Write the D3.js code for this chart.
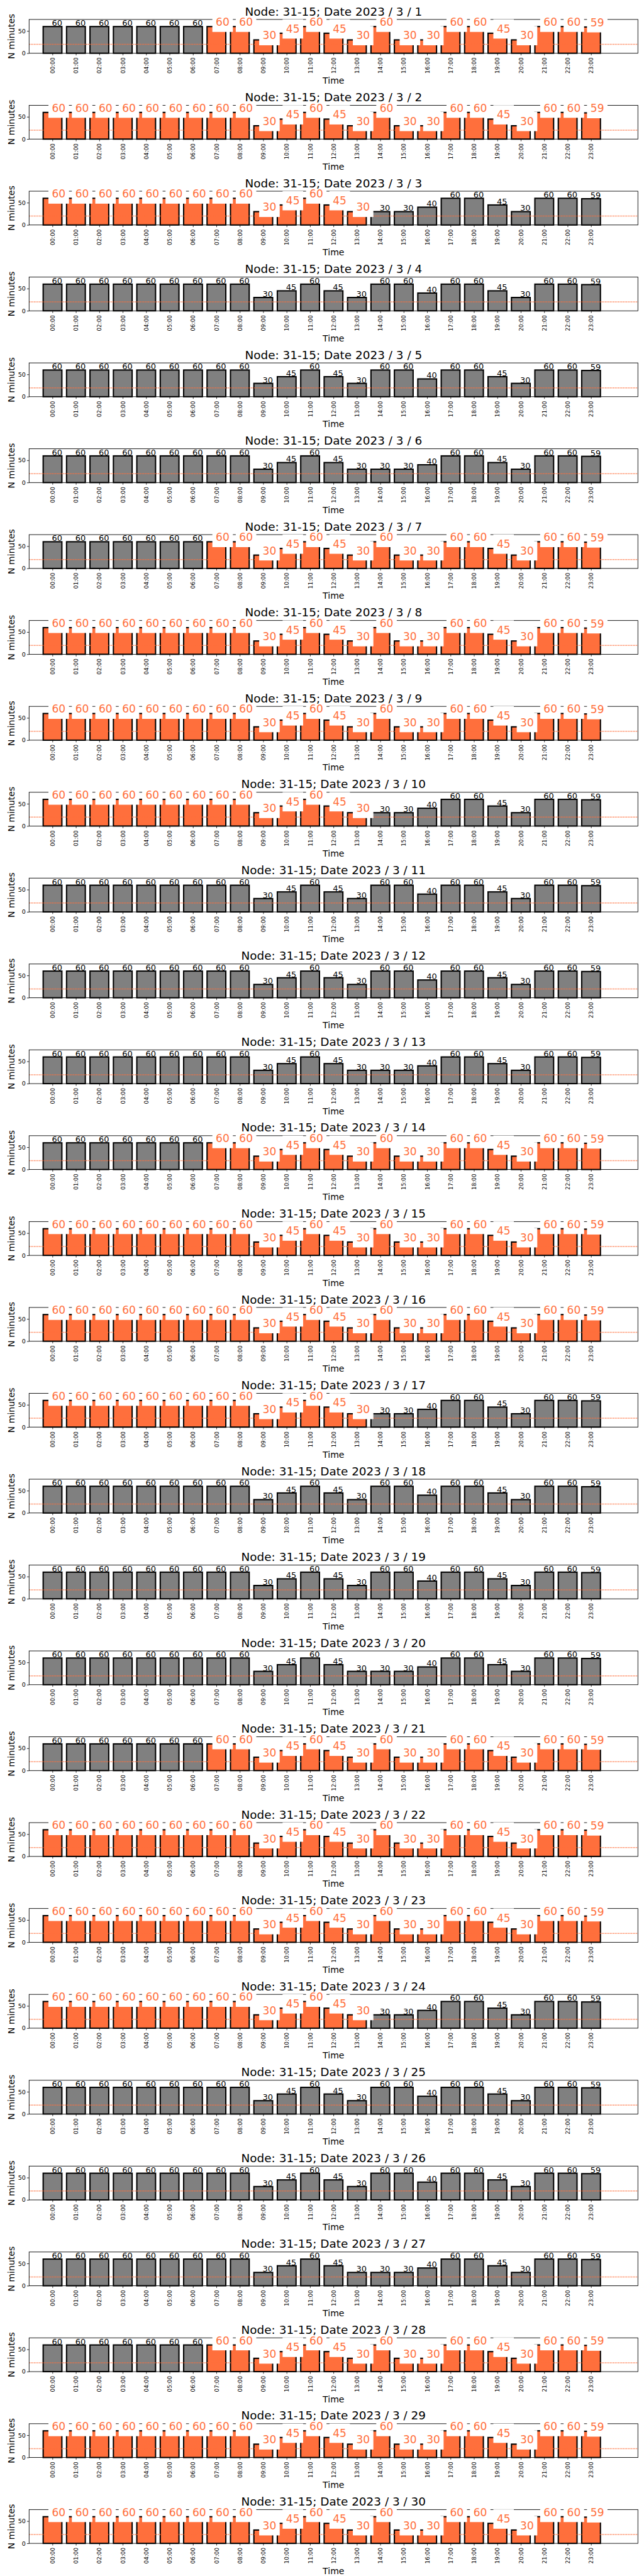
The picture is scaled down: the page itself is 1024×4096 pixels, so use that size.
<!DOCTYPE html>
<html><head><meta charset="utf-8">
<script src="https://cdn.jsdelivr.net/npm/d3@7"></script>
<style>
body{margin:0;background:#fff}
svg{display:block}
text{font-family:"DejaVu Sans",sans-serif}
</style>
</head><body>
<svg id="chart"></svg>
<script>
// ---------------- data ----------------
const nodeName = "31-15";
const yearLabel = 2023;
const monthLabel = 3;
const dayNumbers = [1,2,3,4,5,6,7,8,9,10,11,12,13,14,15,16,17,18,19,20,21,22,23,24,25,26,27,28,29,30];
const hourLabels = ["00:00","01:00","02:00","03:00","04:00","05:00","06:00","07:00","08:00","09:00","10:00","11:00",
                    "12:00","13:00","14:00","15:00","16:00","17:00","18:00","19:00","20:00","21:00","22:00","23:00"];
const yTickValues = [0, 50];
const thresholdMinutes = 20;

// minutes per hour, one row per day
const minutesByDay = [
  [60,60,60,60,60,60,60,60,60,30,45,60,45,30,60,30,30,60,60,45,30,60,60,59], // 1
  [60,60,60,60,60,60,60,60,60,30,45,60,45,30,60,30,30,60,60,45,30,60,60,59], // 2
  [60,60,60,60,60,60,60,60,60,30,45,60,45,30,30,30,40,60,60,45,30,60,60,59], // 3
  [60,60,60,60,60,60,60,60,60,30,45,60,45,30,60,60,40,60,60,45,30,60,60,59], // 4
  [60,60,60,60,60,60,60,60,60,30,45,60,45,30,60,60,40,60,60,45,30,60,60,59], // 5
  [60,60,60,60,60,60,60,60,60,30,45,60,45,30,30,30,40,60,60,45,30,60,60,59], // 6
  [60,60,60,60,60,60,60,60,60,30,45,60,45,30,60,30,30,60,60,45,30,60,60,59], // 7
  [60,60,60,60,60,60,60,60,60,30,45,60,45,30,60,30,30,60,60,45,30,60,60,59], // 8
  [60,60,60,60,60,60,60,60,60,30,45,60,45,30,60,30,30,60,60,45,30,60,60,59], // 9
  [60,60,60,60,60,60,60,60,60,30,45,60,45,30,30,30,40,60,60,45,30,60,60,59], // 10
  [60,60,60,60,60,60,60,60,60,30,45,60,45,30,60,60,40,60,60,45,30,60,60,59], // 11
  [60,60,60,60,60,60,60,60,60,30,45,60,45,30,60,60,40,60,60,45,30,60,60,59], // 12
  [60,60,60,60,60,60,60,60,60,30,45,60,45,30,30,30,40,60,60,45,30,60,60,59], // 13
  [60,60,60,60,60,60,60,60,60,30,45,60,45,30,60,30,30,60,60,45,30,60,60,59], // 14
  [60,60,60,60,60,60,60,60,60,30,45,60,45,30,60,30,30,60,60,45,30,60,60,59], // 15
  [60,60,60,60,60,60,60,60,60,30,45,60,45,30,60,30,30,60,60,45,30,60,60,59], // 16
  [60,60,60,60,60,60,60,60,60,30,45,60,45,30,30,30,40,60,60,45,30,60,60,59], // 17
  [60,60,60,60,60,60,60,60,60,30,45,60,45,30,60,60,40,60,60,45,30,60,60,59], // 18
  [60,60,60,60,60,60,60,60,60,30,45,60,45,30,60,60,40,60,60,45,30,60,60,59], // 19
  [60,60,60,60,60,60,60,60,60,30,45,60,45,30,30,30,40,60,60,45,30,60,60,59], // 20
  [60,60,60,60,60,60,60,60,60,30,45,60,45,30,60,30,30,60,60,45,30,60,60,59], // 21
  [60,60,60,60,60,60,60,60,60,30,45,60,45,30,60,30,30,60,60,45,30,60,60,59], // 22
  [60,60,60,60,60,60,60,60,60,30,45,60,45,30,60,30,30,60,60,45,30,60,60,59], // 23
  [60,60,60,60,60,60,60,60,60,30,45,60,45,30,30,30,40,60,60,45,30,60,60,59], // 24
  [60,60,60,60,60,60,60,60,60,30,45,60,45,30,60,60,40,60,60,45,30,60,60,59], // 25
  [60,60,60,60,60,60,60,60,60,30,45,60,45,30,60,60,40,60,60,45,30,60,60,59], // 26
  [60,60,60,60,60,60,60,60,60,30,45,60,45,30,30,30,40,60,60,45,30,60,60,59], // 27
  [60,60,60,60,60,60,60,60,60,30,45,60,45,30,60,30,30,60,60,45,30,60,60,59], // 28
  [60,60,60,60,60,60,60,60,60,30,45,60,45,30,60,30,30,60,60,45,30,60,60,59], // 29
  [60,60,60,60,60,60,60,60,60,30,45,60,45,30,60,30,30,60,60,45,30,60,60,59]  // 30
];
// flagged (highlighted) hour range per day, null = none
const flaggedFrom = [7,0,0,null,null,null,7,0,0,0,null,null,null,7,0,0,0,null,null,null,7,0,0,0,null,null,null,7,0,0];
const flaggedTo   = [23,23,13,null,null,null,23,23,23,13,null,null,null,23,23,23,13,null,null,null,23,23,23,13,null,null,null,23,23,23];

// ---------------- drawing ----------------
const W = 1500, H = 6000;
const PANEL_H = 200;
const AX_L = 67.8, AX_R = 1485.8, AX_T = 45.3, AX_B = 124;
const ORANGE = "#ff6f3c", GRAY = "#808080";

const svg = d3.select("#chart")
  .attr("width", 1024).attr("height", 4096)
  .attr("viewBox", `0 0 ${W} ${H}`);
svg.append("rect").attr("width", W).attr("height", H).attr("fill", "#fff");

const x = d3.scaleLinear().domain([-1, 25]).range([AX_L, AX_R]);
const y = d3.scaleLinear().domain([0, 76]).range([AX_B, AX_T]);
const barW = x(0.8) - x(0);

dayNumbers.forEach((day, i) => {
  const g = svg.append("g").attr("transform", `translate(0,${i * PANEL_H})`);
  const from = flaggedFrom[i], to = flaggedTo[i];
  const data = minutesByDay[i].map((v, h) => ({
    h, v, f: from !== null && h >= from && h <= to
  }));

  // bars
  g.append("g").selectAll("rect").data(data).join("rect")
    .attr("x", d => x(d.h) - barW / 2)
    .attr("y", d => y(d.v))
    .attr("width", barW)
    .attr("height", d => y(0) - y(d.v))
    .attr("fill", d => d.f ? ORANGE : GRAY)
    .attr("stroke", "#000")
    .attr("stroke-width", 3);

  // threshold line
  g.append("line")
    .attr("x1", AX_L).attr("x2", AX_R)
    .attr("y1", y(thresholdMinutes)).attr("y2", y(thresholdMinutes))
    .attr("stroke", ORANGE).attr("stroke-width", 2.2)
    .attr("stroke-dasharray", "2,1.8");

  // spines
  g.append("rect")
    .attr("x", AX_L).attr("y", AX_T)
    .attr("width", AX_R - AX_L).attr("height", AX_B - AX_T)
    .attr("fill", "none").attr("stroke", "#000").attr("stroke-width", 1.3);

  // x axis
  const xa = g.append("g").attr("transform", `translate(0,${AX_B})`)
    .call(d3.axisBottom(x).tickValues(d3.range(24)).tickFormat(h => hourLabels[h]).tickSize(5));
  xa.select(".domain").remove();
  xa.selectAll(".tick line").attr("stroke", "#000").attr("stroke-width", 1.2);
  xa.selectAll(".tick text")
    .attr("font-family", "DejaVu Sans").attr("font-size", 13).attr("fill", "#000")
    .attr("text-anchor", "end")
    .attr("transform", "rotate(-90)")
    .attr("x", -10).attr("y", 0).attr("dy", "0.35em");

  // y axis
  const ya = g.append("g").attr("transform", `translate(${AX_L},0)`)
    .call(d3.axisLeft(y).tickValues(yTickValues).tickSize(5).tickPadding(3));
  ya.select(".domain").remove();
  ya.selectAll(".tick line").attr("stroke", "#000").attr("stroke-width", 1.2);
  ya.selectAll(".tick text").attr("font-family", "DejaVu Sans").attr("font-size", 14).attr("fill", "#000");

  // axis labels
  g.append("text")
    .attr("transform", `translate(33,${(AX_T + AX_B) / 2}) rotate(-90)`)
    .attr("text-anchor", "middle").attr("font-size", 20.6).attr("fill", "#000")
    .text("N minutes");
  g.append("text")
    .attr("x", (AX_L + AX_R) / 2).attr("y", 195)
    .attr("text-anchor", "middle").attr("font-size", 20.6).attr("fill", "#000")
    .text("Time");

  // value labels: plain (not flagged)
  g.append("g").selectAll("text").data(data.filter(d => !d.f)).join("text")
    .attr("x", d => x(d.h) - 1.5)
    .attr("y", d => y(d.v) - 1.5)
    .attr("font-size", 19).attr("fill", "#000")
    .text(d => d.v);

  // value labels: flagged, with white box
  const fl = g.append("g").selectAll("g").data(data.filter(d => d.f)).join("g");
  fl.append("rect").attr("fill", "#fff");
  fl.append("text")
    .attr("x", d => x(d.h) - 1.5)
    .attr("y", d => y(d.v) - 1.5)
    .attr("font-size", 25).attr("fill", ORANGE)
    .text(d => d.v);
  fl.each(function(d) {
    const t = d3.select(this).select("text");
    const w = t.node().getComputedTextLength();
    const bx = x(d.h) - 9.5;
    const base = y(d.v) - 1.5;
    d3.select(this).select("rect")
      .attr("x", bx).attr("y", base - 31)
      .attr("width", (x(d.h) - 1.5 + w + 8) - bx)
      .attr("height", 31 + 14);
  });

  // title
  g.append("text")
    .attr("x", (AX_L + AX_R) / 2).attr("y", 36)
    .attr("text-anchor", "middle").attr("font-size", 27).attr("fill", "#000")
    .text(`Node: ${nodeName}; Date ${yearLabel} / ${monthLabel} / ${day}`);
});
</script>
</body></html>
